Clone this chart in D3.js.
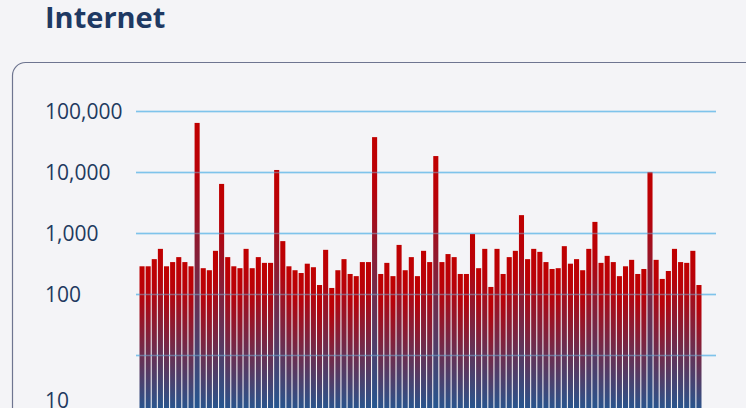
<!DOCTYPE html>
<html>
<head>
<meta charset="utf-8">
<script src="https://cdn.jsdelivr.net/npm/d3@7"></script>
<style>
  html, body { margin: 0; padding: 0; background: #f4f4f7; }
  svg { display: block; }
</style>
</head>
<body>
<svg id="chart" width="746" height="408"></svg>
<script>
// ---- data ----
const title = "Internet";
const categories = d3.range(1, 93).map(i => "Item " + i);
const values = [
  290, 290, 380, 560, 290, 340, 410, 340, 290, 65000,
  270, 250, 520, 6500, 410, 290, 270, 560, 270, 410,
  330, 330, 11000, 750, 290, 250, 225, 320, 280, 143,
  540, 128, 250, 380, 217, 200, 340, 340, 38000, 217,
  330, 200, 650, 250, 410, 200, 520, 340, 18600, 340,
  460, 410, 217, 217, 980, 270, 560, 133, 560, 217,
  410, 520, 2000, 380, 560, 500, 340, 262, 270, 620,
  320, 380, 250, 560, 1550, 330, 430, 340, 200, 290,
  370, 217, 262, 10200, 370, 180, 243, 560, 340, 330,
  520, 143
];
const tickValues = [100000, 10000, 1000, 100, 10];
const tickLabels = ["100,000", "10,000", "1,000", "100", "10"];
const gridValues = [100000, 10000, 1000, 100, 10];

// ---- drawing ----
const svg = d3.select("#chart");
const textColor = "#1f3a60";

svg.append("text")
  .attr("x", 45).attr("y", 28)
  .attr("font-family", "'Open Sans', sans-serif")
  .attr("font-weight", 700)
  .attr("font-size", 29)
  .attr("fill", "#1e3963")
  .text(title);

// panel
svg.append("rect")
  .attr("x", 12.5).attr("y", 62.5)
  .attr("width", 800).attr("height", 500)
  .attr("rx", 13).attr("ry", 13)
  .attr("fill", "#f4f4f7")
  .attr("stroke", "#6e7590")
  .attr("stroke-width", 1.2);

const x = d3.scaleBand()
  .domain(categories)
  .range([139.5, 701.5])
  .paddingInner(0.17)
  .paddingOuter(0);

const y = d3.scaleLog()
  .domain([1, 100000])
  .range([416.5, 111.5]);

const defs = svg.append("defs");
const grad = defs.append("linearGradient")
  .attr("id", "barGrad")
  .attr("x1", 0).attr("y1", 0).attr("x2", 0).attr("y2", 1);
grad.append("stop").attr("offset", "0%").attr("stop-color", "#c00000");
grad.append("stop").attr("offset", "18%").attr("stop-color", "#b8020a");
grad.append("stop").attr("offset", "100%").attr("stop-color", "#1f5a96");

// gridlines behind bars
svg.append("g")
  .selectAll("line")
  .data(gridValues)
  .join("line")
  .attr("x1", 136).attr("x2", 716)
  .attr("y1", d => y(d)).attr("y2", d => y(d))
  .attr("stroke", "#7fc3ec")
  .attr("stroke-width", 1.3);

svg.append("g")
  .selectAll("rect")
  .data(values)
  .join("rect")
  .attr("x", (d, i) => x(categories[i]))
  .attr("width", x.bandwidth())
  .attr("y", d => y(d))
  .attr("height", d => y.range()[0] - y(d))
  .attr("fill", "url(#barGrad)");

// faint gridlines over bars
svg.append("g")
  .selectAll("line")
  .data(gridValues)
  .join("line")
  .attr("x1", 136).attr("x2", 716)
  .attr("y1", d => y(d)).attr("y2", d => y(d))
  .attr("stroke", "#7fc3ec")
  .attr("stroke-opacity", 0.45)
  .attr("stroke-width", 1.3);

// y labels (the lowest label sits below its gridline in the reference)
svg.append("g")
  .selectAll("text")
  .data(tickValues)
  .join("text")
  .attr("x", 45)
  .attr("y", (d, i) => y(d) + (d === 10 ? 45 : 0))
  .attr("dy", "0.35em")
  .attr("font-family", "'Open Sans', sans-serif")
  .attr("font-size", 21)
  .attr("fill", textColor)
  .text((d, i) => tickLabels[i]);
</script>
</body>
</html>
